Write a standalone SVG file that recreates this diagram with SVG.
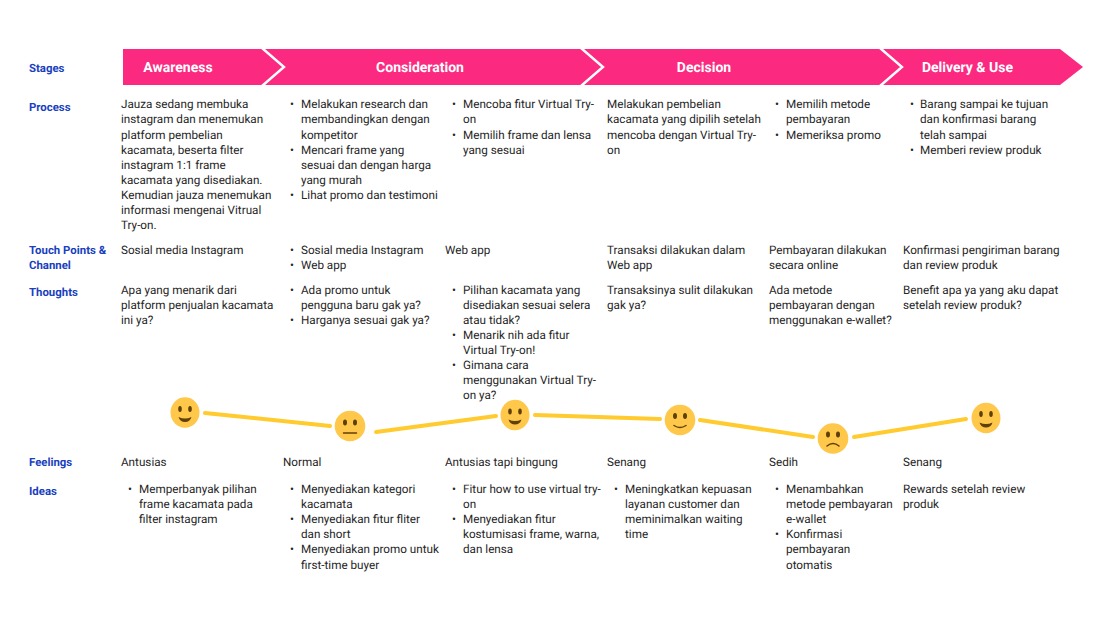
<svg xmlns="http://www.w3.org/2000/svg" width="1117" height="629" viewBox="0 0 1117 629">
<style>
text{font-family:Roboto,"Liberation Sans",sans-serif;text-rendering:geometricPrecision}
.t{font-size:11.7px;fill:#262626}
.l{font-size:11.4px;font-weight:700;fill:#1a3fc0}
.s{font-size:14px;font-weight:700;fill:#fff;text-anchor:middle}
.ch{fill:none;stroke:#fff;stroke-width:2.4}
.f{fill:#ffc84a}
.e{fill:#5f3f0a}
.m{fill:none;stroke:#5f3f0a;stroke-width:1.5;stroke-linecap:round}
.c{stroke:#ffcb2e;stroke-width:4;stroke-linecap:round;fill:none}
</style>
<rect width="1117" height="629" fill="#fff"/>
<g id="stages-band">
<path d="M123 49H1060L1083 67L1060 85H123Z" fill="#fb2a80"/>
<path class="ch" d="M262 48L284 67L262 86M581 48L603 67L581 86M880 48L902 67L880 86"/>
<text class="s" x="178" y="72">Awareness</text>
<text class="s" x="420" y="72">Consideration</text>
<text class="s" x="704" y="72">Decision</text>
<text class="s" x="967.500" y="72">Delivery &amp; Use</text>
</g>
<g id="labels">
<text class="l" x="29" y="71.500">Stages</text>
<text class="l" x="29" y="110.500">Process</text>
<text class="l" x="29" y="254">Touch Points &amp;</text>
<text class="l" x="29" y="269">Channel</text>
<text class="l" x="29" y="295.500">Thoughts</text>
<text class="l" x="29" y="466">Feelings</text>
<text class="l" x="29" y="495">Ideas</text>
</g>
<g id="process-1"><text class="t" y="108.300">
<tspan x="121">Jauza sedang membuka</tspan><tspan x="121" dy="15.1">instagram dan menemukan</tspan><tspan x="121" dy="15.1">platform pembelian</tspan><tspan x="121" dy="15.1">kacamata, beserta filter</tspan><tspan x="121" dy="15.1">instagram 1:1 frame</tspan><tspan x="121" dy="15.1">kacamata yang disediakan.</tspan><tspan x="121" dy="15.1">Kemudian jauza menemukan</tspan><tspan x="121" dy="15.1">informasi mengenai Vitrual</tspan><tspan x="121" dy="15.1">Try-on.</tspan></text></g>
<g id="process-2"><text class="t" y="108.300">
<tspan x="290">•</tspan><tspan x="301">Melakukan research dan</tspan><tspan x="301" dy="15.1">membandingkan dengan</tspan><tspan x="301" dy="15.1">kompetitor</tspan><tspan x="290" dy="15.1">•</tspan><tspan x="301">Mencari frame yang</tspan><tspan x="301" dy="15.1">sesuai dan dengan harga</tspan><tspan x="301" dy="15.1">yang murah</tspan><tspan x="290" dy="15.1">•</tspan><tspan x="301">Lihat promo dan testimoni</tspan></text></g>
<g id="process-3"><text class="t" y="108.300">
<tspan x="452">•</tspan><tspan x="463">Mencoba fitur Virtual Try-</tspan><tspan x="463" dy="15.1">on</tspan><tspan x="452" dy="15.1">•</tspan><tspan x="463">Memilih frame dan lensa</tspan><tspan x="463" dy="15.1">yang sesuai</tspan></text></g>
<g id="process-4"><text class="t" y="108.300">
<tspan x="607">Melakukan pembelian</tspan><tspan x="607" dy="15.1">kacamata yang dipilih setelah</tspan><tspan x="607" dy="15.1">mencoba dengan Virtual Try-</tspan><tspan x="607" dy="15.1">on</tspan></text></g>
<g id="process-5"><text class="t" y="108.300">
<tspan x="775">•</tspan><tspan x="786">Memilih metode</tspan><tspan x="786" dy="15.1">pembayaran</tspan><tspan x="775" dy="15.1">•</tspan><tspan x="786">Memeriksa promo</tspan></text></g>
<g id="process-6"><text class="t" y="108.300">
<tspan x="910">•</tspan><tspan x="920">Barang sampai ke tujuan</tspan><tspan x="920" dy="15.1">dan konfirmasi barang</tspan><tspan x="920" dy="15.1">telah sampai</tspan><tspan x="910" dy="15.1">•</tspan><tspan x="920">Memberi review produk</tspan></text></g>
<g id="touch-1"><text class="t" x="121" y="254">Sosial media Instagram</text></g>
<g id="touch-2"><text class="t" y="254"><tspan x="290">•</tspan><tspan x="301">Sosial media Instagram</tspan><tspan x="290" dy="15.1">•</tspan><tspan x="301">Web app</tspan></text></g>
<g id="touch-3"><text class="t" x="445" y="254">Web app</text></g>
<g id="touch-4"><text class="t" y="254"><tspan x="607">Transaksi dilakukan dalam</tspan><tspan x="607" dy="15.1">Web app</tspan></text></g>
<g id="touch-5"><text class="t" y="254"><tspan x="769">Pembayaran dilakukan</tspan><tspan x="769" dy="15.1">secara online</tspan></text></g>
<g id="touch-6"><text class="t" y="254"><tspan x="903">Konfirmasi pengiriman barang</tspan><tspan x="903" dy="15.1">dan review produk</tspan></text></g>
<g id="thoughts-1"><text class="t" y="293.500"><tspan x="121">Apa yang menarik dari</tspan><tspan x="121" dy="15.1">platform penjualan kacamata</tspan><tspan x="121" dy="15.1">ini ya?</tspan></text></g>
<g id="thoughts-2"><text class="t" y="293.500"><tspan x="290">•</tspan><tspan x="301">Ada promo untuk</tspan><tspan x="301" dy="15.1">pengguna baru gak ya?</tspan><tspan x="290" dy="15.1">•</tspan><tspan x="301">Harganya sesuai gak ya?</tspan></text></g>
<g id="thoughts-3"><text class="t" y="293.500"><tspan x="452">•</tspan><tspan x="463">Pilihan kacamata yang</tspan><tspan x="463" dy="15.1">disediakan sesuai selera</tspan><tspan x="463" dy="15.1">atau tidak?</tspan><tspan x="452" dy="15.1">•</tspan><tspan x="463">Menarik nih ada fitur</tspan><tspan x="463" dy="15.1">Virtual Try-on!</tspan><tspan x="452" dy="15.1">•</tspan><tspan x="463">Gimana cara</tspan><tspan x="463" dy="15.1">menggunakan Virtual Try-</tspan><tspan x="463" dy="15.1">on ya?</tspan></text></g>
<g id="thoughts-4"><text class="t" y="293.500"><tspan x="607">Transaksinya sulit dilakukan</tspan><tspan x="607" dy="15.1">gak ya?</tspan></text></g>
<g id="thoughts-5"><text class="t" y="293.500"><tspan x="769">Ada metode</tspan><tspan x="769" dy="15.1">pembayaran dengan</tspan><tspan x="769" dy="15.1">menggunakan e-wallet?</tspan></text></g>
<g id="thoughts-6"><text class="t" y="293.500"><tspan x="903">Benefit apa ya yang aku dapat</tspan><tspan x="903" dy="15.1">setelah review produk?</tspan></text></g>
<g id="connectors">
<path class="c" d="M205 413L330 426"/>
<path class="c" d="M376 432L496 416"/>
<path class="c" d="M535 415L660 419"/>
<path class="c" d="M700 420L813 437"/>
<path class="c" d="M854 437L966 419"/>
</g>
<g id="face-1"><ellipse class="f" cx="185" cy="412.500" rx="14.500" ry="15.300"/><ellipse class="e" cx="180" cy="409" rx="1.800" ry="3"/><ellipse class="e" cx="190" cy="409" rx="1.800" ry="3"/><path class="e" d="M178.500 417Q185 420 191.500 417Q190 422 185 422Q180 422 178.500 417Z"/></g>
<g id="face-2"><ellipse class="f" cx="350" cy="426" rx="15.300" ry="15.300"/><ellipse class="e" cx="345" cy="422.500" rx="2" ry="3"/><ellipse class="e" cx="355" cy="422.500" rx="2" ry="3"/><path class="m" d="M343.500 433H356.500"/></g>
<g id="face-3"><ellipse class="f" cx="515" cy="415" rx="14.500" ry="15.300"/><ellipse class="e" cx="510" cy="411.500" rx="1.800" ry="3"/><ellipse class="e" cx="520" cy="411.500" rx="1.800" ry="3"/><path class="e" d="M508.500 419.500Q515 422.500 521.500 419.500Q520 424.500 515 424.500Q510 424.500 508.500 419.500Z"/></g>
<g id="face-4"><ellipse class="f" cx="680" cy="420" rx="15.300" ry="15.300"/><ellipse class="e" cx="675" cy="416" rx="2" ry="3"/><ellipse class="e" cx="685" cy="416" rx="2" ry="3"/><path class="m" d="M674 425.500Q680 429.500 686 425.500"/></g>
<g id="face-5"><ellipse class="f" cx="833" cy="438.500" rx="15.300" ry="15.300"/><ellipse class="e" cx="828" cy="434.500" rx="2" ry="3"/><ellipse class="e" cx="838" cy="434.500" rx="2" ry="3"/><path class="m" d="M827 446Q833 441 839 446"/></g>
<g id="face-6"><ellipse class="f" cx="986" cy="418" rx="14.500" ry="15.300"/><ellipse class="e" cx="981" cy="414" rx="1.800" ry="3"/><ellipse class="e" cx="991" cy="414" rx="1.800" ry="3"/><path class="e" d="M979.500 422.500Q986 425.500 992.500 422.500Q991 427.500 986 427.500Q981 427.500 979.500 422.500Z"/></g>
<g id="feelings">
<text class="t" x="121" y="466">Antusias</text>
<text class="t" x="283" y="466">Normal</text>
<text class="t" x="445" y="466">Antusias tapi bingung</text>
<text class="t" x="607" y="466">Senang</text>
<text class="t" x="769" y="466">Sedih</text>
<text class="t" x="903" y="466">Senang</text>
</g>
<g id="ideas-1"><text class="t" y="493"><tspan x="128">•</tspan><tspan x="139">Memperbanyak pilihan</tspan><tspan x="139" dy="15.1">frame kacamata pada</tspan><tspan x="139" dy="15.1">filter instagram</tspan></text></g>
<g id="ideas-2"><text class="t" y="493"><tspan x="290">•</tspan><tspan x="301">Menyediakan kategori</tspan><tspan x="301" dy="15.1">kacamata</tspan><tspan x="290" dy="15.1">•</tspan><tspan x="301">Menyediakan fitur fliter</tspan><tspan x="301" dy="15.1">dan short</tspan><tspan x="290" dy="15.1">•</tspan><tspan x="301">Menyediakan promo untuk</tspan><tspan x="301" dy="15.1">first-time buyer</tspan></text></g>
<g id="ideas-3"><text class="t" y="493"><tspan x="452">•</tspan><tspan x="463">Fitur how to use virtual try-</tspan><tspan x="463" dy="15.1">on</tspan><tspan x="452" dy="15.1">•</tspan><tspan x="463">Menyediakan fitur</tspan><tspan x="463" dy="15.1">kostumisasi frame, warna,</tspan><tspan x="463" dy="15.1">dan lensa</tspan></text></g>
<g id="ideas-4"><text class="t" y="493"><tspan x="614">•</tspan><tspan x="625">Meningkatkan kepuasan</tspan><tspan x="625" dy="15.1">layanan customer dan</tspan><tspan x="625" dy="15.1">meminimalkan waiting</tspan><tspan x="625" dy="15.1">time</tspan></text></g>
<g id="ideas-5"><text class="t" y="493"><tspan x="775">•</tspan><tspan x="786">Menambahkan</tspan><tspan x="786" dy="15.1">metode pembayaran</tspan><tspan x="786" dy="15.1">e-wallet</tspan><tspan x="775" dy="15.1">•</tspan><tspan x="786">Konfirmasi</tspan><tspan x="786" dy="15.1">pembayaran</tspan><tspan x="786" dy="15.1">otomatis</tspan></text></g>
<g id="ideas-6"><text class="t" y="493"><tspan x="903">Rewards setelah review</tspan><tspan x="903" dy="15.1">produk</tspan></text></g>
</svg>
